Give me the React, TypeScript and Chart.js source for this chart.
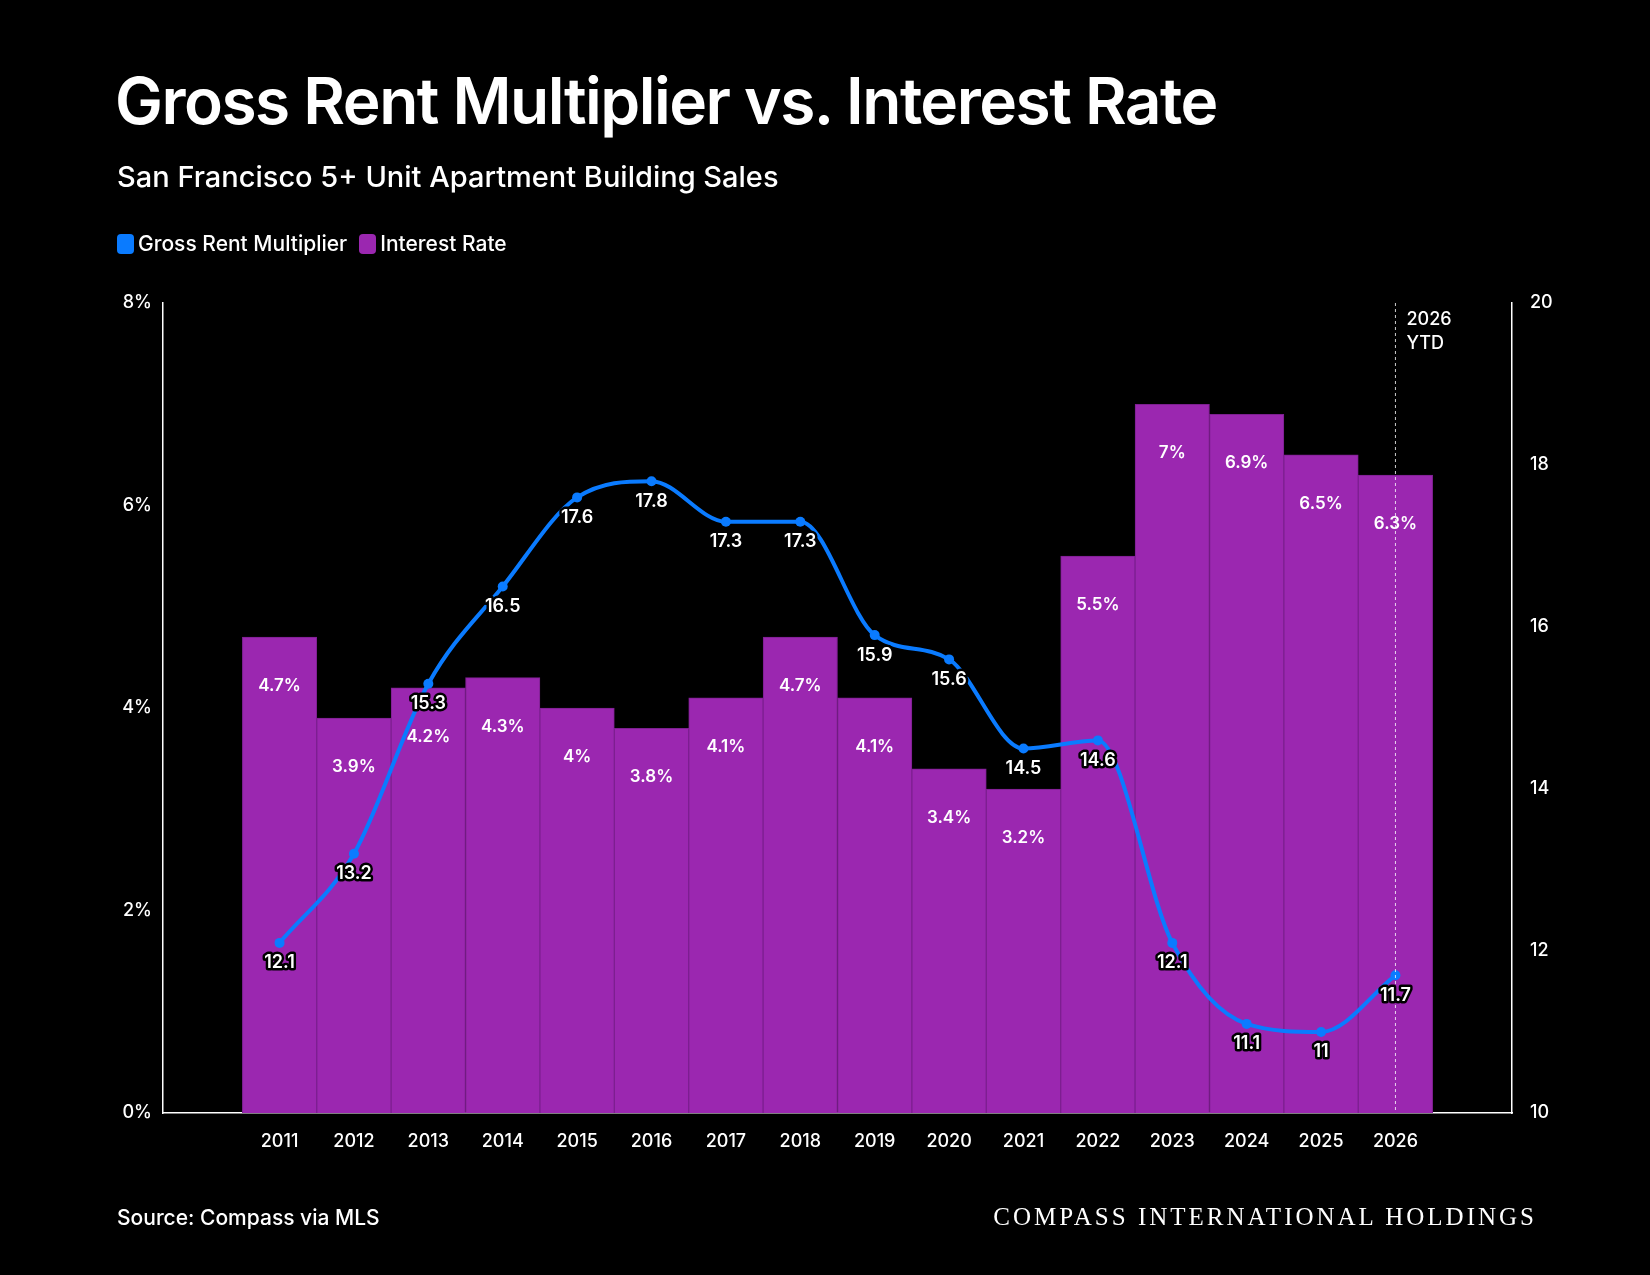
import React, { useEffect, useRef } from "react";
import { Chart, registerables } from "chart.js";
Chart.register(...registerables);

const years = [2011, 2012, 2013, 2014, 2015, 2016, 2017, 2018, 2019, 2020, 2021, 2022, 2023, 2024, 2025, 2026];
const grm = [12.1, 13.2, 15.3, 16.5, 17.6, 17.8, 17.3, 17.3, 15.9, 15.6, 14.5, 14.6, 12.1, 11.1, 11, 11.7];
const rate = [4.7, 3.9, 4.2, 4.3, 4, 3.8, 4.1, 4.7, 4.1, 3.4, 3.2, 5.5, 7, 6.9, 6.5, 6.3];
const leftTicks = [0, 2, 4, 6, 8];
const rightTicks = [10, 12, 14, 16, 18, 20];

const FONT = "Inter, 'Noto Sans', sans-serif";
const BLUE = "#0a7bff";
const PURPLE = "#9b27b0";

const labelsPlugin = {
  id: "labelsPlugin",
  afterDatasetsDraw(chart: any) {
    const ctx = chart.ctx;
    const { top, bottom } = chart.chartArea;
    const x = chart.scales.x;
    // YTD line
    const xp = x.getPixelForValue(2026);
    ctx.save();
    ctx.strokeStyle = "rgba(255,255,255,0.8)";
    ctx.setLineDash([3, 3]);
    ctx.lineWidth = 1;
    ctx.beginPath();
    ctx.moveTo(xp, top);
    ctx.lineTo(xp, bottom);
    ctx.stroke();
    ctx.setLineDash([]);
    ctx.fillStyle = "#fff";
    ctx.font = `500 18px ${FONT}`;
    ctx.textAlign = "left";
    ctx.textBaseline = "top";
    ctx.fillText("2026", xp + 11, top + 8);
    ctx.fillText("YTD", xp + 11, top + 32);
    // bar labels
    const barMeta = chart.getDatasetMeta(0);
    ctx.textAlign = "center";
    ctx.textBaseline = "middle";
    ctx.font = `600 17px ${FONT}`;
    barMeta.data.forEach((el: any, i: number) => {
      ctx.fillStyle = "#fff";
      ctx.fillText(rate[i] + "%", el.x, el.y + 49);
    });
    // line labels
    const lineMeta = chart.getDatasetMeta(1);
    ctx.font = `600 18px ${FONT}`;
    ctx.lineJoin = "round";
    lineMeta.data.forEach((el: any, i: number) => {
      const y = el.y + 20;
      ctx.strokeStyle = "#000";
      ctx.lineWidth = 5;
      ctx.strokeText(String(grm[i]), el.x, y);
      ctx.fillStyle = "#fff";
      ctx.fillText(String(grm[i]), el.x, y);
    });
    ctx.restore();
  },
};

export default function App() {
  const ref = useRef<HTMLCanvasElement>(null);
  useEffect(() => {
    const chart = new Chart(ref.current!, {
      data: {
        datasets: [
          {
            type: "bar",
            label: "Interest Rate",
            data: years.map((y, i) => ({ x: y, y: rate[i] })),
            backgroundColor: PURPLE,
            borderColor: "#7d1f90",
            borderWidth: 1,
            barPercentage: 1,
            categoryPercentage: 1,
            yAxisID: "y",
            order: 2,
          },
          {
            type: "line",
            label: "Gross Rent Multiplier",
            data: years.map((y, i) => ({ x: y, y: grm[i] })),
            borderColor: BLUE,
            backgroundColor: BLUE,
            borderWidth: 4,
            pointRadius: 5,
            pointBorderWidth: 0,
            cubicInterpolationMode: "monotone",
            yAxisID: "y1",
            order: 1,
          },
        ],
      } as any,
      options: {
        animation: false,
        responsive: false,
        layout: { padding: { top: 303, left: 0, right: 0, bottom: 0 } },
        plugins: { legend: { display: false }, tooltip: { enabled: false } },
        scales: {
          x: {
            type: "linear",
            min: 2010,
            max: 2027,
            grid: { display: false },
            border: { color: "#fff", width: 1.5 },
            afterFit: (s: any) => { s.height = 162; },
            afterBuildTicks: (s: any) => { s.ticks = years.map((v) => ({ value: v })); },
            ticks: { color: "#fff", font: { family: FONT, size: 18, weight: "500" }, padding: 10, callback: (v: any) => String(v) },
          },
          y: {
            position: "left",
            min: 0,
            max: 8,
            grid: { display: false, drawTicks: true },
            border: { color: "#fff", width: 1.5 },
            afterFit: (s: any) => { s.width = 163; },
            afterBuildTicks: (s: any) => { s.ticks = leftTicks.map((v) => ({ value: v })); },
            ticks: { color: "#fff", font: { family: FONT, size: 18, weight: "500" }, callback: (v: any) => v + "%" },
          },
          y1: {
            position: "right",
            min: 10,
            max: 20,
            grid: { display: false },
            border: { color: "#fff", width: 1.5 },
            afterFit: (s: any) => { s.width = 138; },
            afterBuildTicks: (s: any) => { s.ticks = rightTicks.map((v) => ({ value: v })); },
            ticks: { color: "#fff", font: { family: FONT, size: 18, weight: "500" }, padding: 10 },
          },
        },
      } as any,
      plugins: [labelsPlugin],
    });
    return () => chart.destroy();
  }, []);

  const txt: React.CSSProperties = { position: "absolute", color: "#fff", fontFamily: FONT, whiteSpace: "nowrap" };
  const sw = (c: string): React.CSSProperties => ({ display: "inline-block", width: 17, height: 20, borderRadius: 4, background: c, marginRight: 4, verticalAlign: "-3px" });
  return (
    <div style={{ position: "fixed", left: 0, top: 0, width: 1650, height: 1275, background: "#000", overflow: "hidden" }}>
      <canvas ref={ref} width={1650} height={1275} style={{ position: "absolute", left: 0, top: 0 }} />
      <div style={{ ...txt, left: 115, top: 62, fontSize: 64, fontWeight: 600, letterSpacing: -1.5 }}>Gross Rent Multiplier vs. Interest Rate</div>
      <div style={{ ...txt, left: 117, top: 159, fontSize: 29, fontWeight: 500 }}>San Francisco 5+ Unit Apartment Building Sales</div>
      <div style={{ ...txt, left: 117, top: 231, fontSize: 21, fontWeight: 500 }}>
        <span style={sw(BLUE)} />Gross Rent Multiplier
        <span style={{ ...sw(PURPLE), marginLeft: 12 }} />Interest Rate
      </div>
      <div style={{ ...txt, left: 117, top: 1205, fontSize: 21, fontWeight: 500 }}>Source: Compass via MLS</div>
      <div style={{ ...txt, right: 113, top: 1203, fontSize: 25, fontFamily: "'Liberation Serif', serif", letterSpacing: 3 }}>COMPASS INTERNATIONAL HOLDINGS</div>
    </div>
  );
}
